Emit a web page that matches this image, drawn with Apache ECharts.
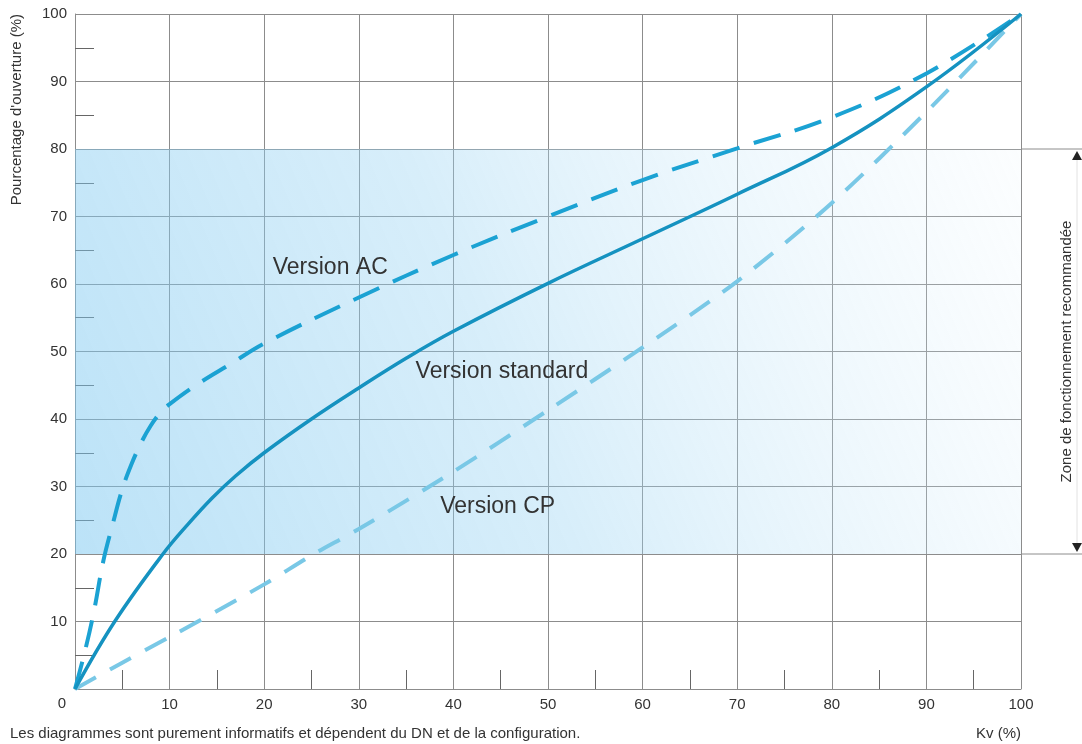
<!DOCTYPE html>
<html>
<head>
<meta charset="utf-8">
<script src="https://cdn.jsdelivr.net/npm/echarts@6/dist/echarts.min.js"></script>
<style>
  html, body { margin: 0; padding: 0; background: #fff; }
  #main { width: 1082px; height: 744px; }
</style>
</head>
<body>
<div id="main"></div>
<script>
var axisTicks = [0, 10, 20, 30, 40, 50, 60, 70, 80, 90, 100];

var kvStandard   = [0, 4.2, 9.3, 12, 14.5, 17, 20, 25, 30, 35, 40, 50, 60, 70, 80, 90, 100];
var openStandard = [0, 10, 20, 24.5, 28.3, 31.6, 35, 40, 44.6, 49, 53, 60.1, 66.7, 73.3, 80.2, 89.2, 100];

var kvAC   = [0, 1, 2, 3, 4, 5, 6, 7, 8, 9, 10, 13, 16.5, 20, 30, 40, 50, 60, 70, 80, 90, 100];
var openAC = [0, 5.3, 11.5, 19, 24.5, 29.6, 33.4, 36.5, 39, 40.9, 42.2, 45.2, 48.2, 51.2, 58, 64.3, 70, 75.4, 80.1, 84.7, 91.2, 100];

var kvCP   = [0, 5, 10, 20, 25, 30, 40, 50, 60, 70, 80, 90, 100];
var openCP = [0, 3.9, 7.7, 15.5, 19.8, 23.7, 32.2, 41.3, 50.6, 60.4, 72, 85.5, 100];

var zoneLow = 20, zoneHigh = 80;

function pairs(xs, ys) {
  var out = [];
  for (var i = 0; i < xs.length; i++) out.push([xs[i], ys[i]]);
  return out;
}

var txt = '#333';
var gridCol = '#8c8c8c';
var font = 'Liberation Sans, Arial, sans-serif';

var chart = echarts.init(document.getElementById('main'));

var option = {
  animation: false,
  grid: { left: 75, right: 61, top: 14, bottom: 55 },
  xAxis: {
    type: 'value',
    min: axisTicks[0], max: axisTicks[axisTicks.length - 1], interval: 10,
    axisLine: { show: true, lineStyle: { color: gridCol, width: 1 } },
    axisTick: { show: false, inside: true },
    minorTick: { show: true, splitNumber: 2, length: 19, lineStyle: { color: '#666', width: 1 } },
    splitLine: { show: true, lineStyle: { color: gridCol, width: 1 } },
    axisLabel: {
      color: txt, fontSize: 15, fontFamily: font, margin: 8,
      formatter: function (v) { return v === 0 ? '' : String(v); }
    }
  },
  yAxis: {
    type: 'value',
    min: axisTicks[0], max: axisTicks[axisTicks.length - 1], interval: 10,
    axisLine: { show: true, lineStyle: { color: gridCol, width: 1 } },
    axisTick: { show: false, inside: true },
    minorTick: { show: true, splitNumber: 2, length: 19, lineStyle: { color: '#666', width: 1 } },
    splitLine: { show: true, lineStyle: { color: gridCol, width: 1 } },
    axisLabel: {
      color: txt, fontSize: 15, fontFamily: font, margin: 8,
      formatter: function (v) { return v === 0 ? '' : String(v); }
    }
  },
  series: [
    {
      // zone de fonctionnement (fond dégradé)
      type: 'line',
      z: -1,
      data: [[0, 0]],
      symbol: 'none',
      lineStyle: { opacity: 0 },
      silent: true,
      markArea: {
        silent: true,
        itemStyle: {
          color: new echarts.graphic.LinearGradient(0, 1, 1, 0, [
            { offset: 0, color: 'rgba(120,198,240,0.5)' },
            { offset: 0.45, color: 'rgba(150,210,242,0.38)' },
            { offset: 1, color: 'rgba(230,244,252,0.15)' }
          ])
        },
        data: [[{ coord: [0, zoneLow] }, { coord: [100, zoneHigh] }]]
      }
    },
    {
      name: 'Version CP',
      type: 'line',
      smooth: 0.3,
      symbol: 'none',
      data: pairs(kvCP, openCP),
      lineStyle: { color: '#79c8e6', width: 4, type: [24, 16], cap: 'butt' }
    },
    {
      name: 'Version AC',
      type: 'line',
      smooth: 0.4,
      symbol: 'none',
      data: pairs(kvAC, openAC),
      lineStyle: { color: '#1ba2d3', width: 4, type: [28, 15], cap: 'butt' }
    },
    {
      name: 'Version standard',
      type: 'line',
      smooth: 0.4,
      symbol: 'none',
      data: pairs(kvStandard, openStandard),
      lineStyle: { color: '#1592c0', width: 3.5 }
    }
  ]
};
chart.setOption(option);

// annotations placées en coordonnées du diagramme
var curveLabels = [
  { text: 'Version AC', at: [20.9, 62.4] },
  { text: 'Version standard', at: [36.0, 47.0] },
  { text: 'Version CP', at: [38.6, 27.0] }
];

var graphics = [];
curveLabels.forEach(function (l) {
  var p = chart.convertToPixel({ gridIndex: 0 }, l.at);
  graphics.push({
    type: 'text', x: p[0], y: p[1], z: 100,
    style: { text: l.text, fill: txt, font: '23px ' + font, textAlign: 'left', textVerticalAlign: 'middle' }
  });
});

var pLow = chart.convertToPixel({ gridIndex: 0 }, [100, zoneLow]);
var pHigh = chart.convertToPixel({ gridIndex: 0 }, [100, zoneHigh]);
var origin = chart.convertToPixel({ gridIndex: 0 }, [0, 0]);
var arrowX = 1077;

graphics.push(
  { type: 'line', z: 100, shape: { x1: pLow[0], y1: pLow[1], x2: 1082, y2: pLow[1] }, style: { stroke: gridCol, lineWidth: 1 } },
  { type: 'line', z: 100, shape: { x1: pHigh[0], y1: pHigh[1], x2: 1082, y2: pHigh[1] }, style: { stroke: gridCol, lineWidth: 1 } },
  { type: 'line', z: 100, shape: { x1: arrowX, y1: pHigh[1] + 8, x2: arrowX, y2: pLow[1] - 8 }, style: { stroke: '#e2e2e2', lineWidth: 1 } },
  { type: 'polygon', z: 100, shape: { points: [[arrowX, pHigh[1] + 2], [arrowX - 5, pHigh[1] + 11], [arrowX + 5, pHigh[1] + 11]] }, style: { fill: '#222' } },
  { type: 'polygon', z: 100, shape: { points: [[arrowX, pLow[1] - 2], [arrowX - 5, pLow[1] - 11], [arrowX + 5, pLow[1] - 11]] }, style: { fill: '#222' } },
  {
    type: 'text', z: 100, x: 1067, y: (pLow[1] + pHigh[1]) / 2, rotation: Math.PI / 2,
    style: { text: 'Zone de fonctionnement recommandée', fill: txt, font: '15px ' + font, textAlign: 'center', textVerticalAlign: 'middle' }
  },
  {
    type: 'text', z: 100, x: 17, y: 14, rotation: Math.PI / 2,
    style: { text: "Pourcentage d'ouverture (%)", fill: txt, font: '15px ' + font, textAlign: 'right', textVerticalAlign: 'middle' }
  },
  {
    type: 'text', z: 100, x: origin[0] - 13, y: origin[1] + 15,
    style: { text: '0', fill: txt, font: '15px ' + font, textAlign: 'center', textVerticalAlign: 'middle' }
  },
  {
    type: 'text', z: 100, x: 10, y: 734,
    style: { text: 'Les diagrammes sont purement informatifs et dépendent du DN et de la configuration.', fill: txt, font: '15px ' + font, textAlign: 'left', textVerticalAlign: 'middle' }
  },
  {
    type: 'text', z: 100, x: 1021, y: 734,
    style: { text: 'Kv (%)', fill: txt, font: '15px ' + font, textAlign: 'right', textVerticalAlign: 'middle' }
  }
);

chart.setOption({ graphic: graphics });
</script>
</body>
</html>
